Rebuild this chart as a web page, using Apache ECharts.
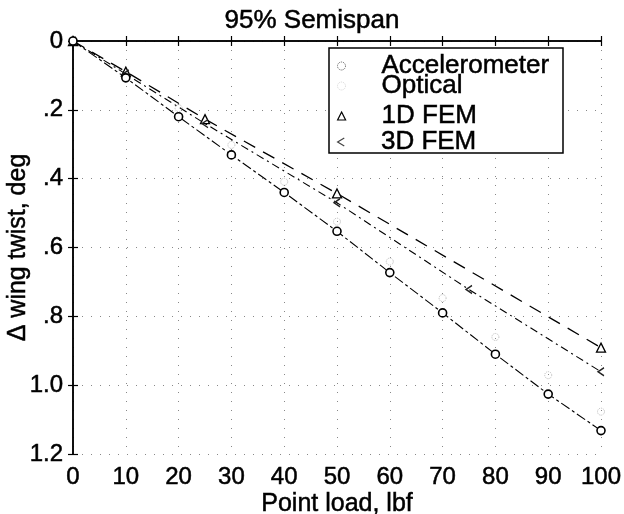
<!DOCTYPE html>
<html><head><meta charset="utf-8">
<script src="https://cdn.jsdelivr.net/npm/echarts@6/dist/echarts.min.js"></script>
<style>html,body{margin:0;padding:0;background:#fff}#c{width:624px;height:514px}</style>
</head><body><div id="c"></div>
<script>
// ---- data ----
const loads = [0, 10, 20, 30, 40, 50, 60, 70, 80, 90, 100];
const accelerometer = [0, 0.107, 0.22, 0.331, 0.44, 0.553, 0.673, 0.79, 0.91, 1.026, 1.132];
const optical = [0, 0.095, 0.195, 0.302, 0.409, 0.525, 0.641, 0.747, 0.86, 0.971, 1.077];
const fem1dLoads = [0, 10, 25, 50, 100];
const fem1d = [0, 0.089, 0.227, 0.443, 0.891];
const fem3dLoads = [0, 10, 25, 50, 75, 100];
const fem3d = [0, 0.096, 0.24, 0.47, 0.722, 0.961];
const yTickLabels = ['0', '.2', '.4', '.6', '.8', '1.0', '1.2'];
const seriesNames = ['Accelerometer', 'Optical', '1D FEM', '3D FEM'];

const FONT = 'Liberation Sans';
const thick = { textBorderColor: '#000', textBorderWidth: 0.5 };
const chevron = 'path://M10,0 L0,6 L10,12';
const pair = (xs, ys) => xs.map((x, i) => [x, ys[i]]);

const gridLine = { show: true, lineStyle: { type: [1, 8], color: '#888', width: 1 } };
const axisLine = { show: true, lineStyle: { color: '#000', width: 1.5 } };
const tick = { show: true, inside: true, length: 5, lineStyle: { color: '#000', width: 1.2 } };

const chart = echarts.init(document.getElementById('c'), null, { renderer: 'canvas' });
const legendText = Object.assign({ fontFamily: FONT, fontSize: 26, color: '#000', padding: [16, 0, 0, 31], lineHeight: 26 }, thick);
const legendTops = [45, 65, 95, 121];
const legendIcons = [
  { icon: 'circle', itemStyle: { color: '#fff', borderColor: '#555', borderWidth: 1, borderType: 'dotted' } },
  { icon: 'circle', itemStyle: { color: '#fff', borderColor: '#ccc', borderWidth: 1, borderType: 'dotted' } },
  { icon: 'triangle', itemStyle: { color: '#fff', borderColor: '#000', borderWidth: 1.2 } },
  { icon: chevron, itemStyle: { color: 'rgba(0,0,0,0)', borderColor: '#444', borderWidth: 1.2 } }
];

chart.setOption({
  animation: false,
  backgroundColor: '#fff',
  title: {
    text: '95% Semispan', left: 'center', top: 3,
    textStyle: Object.assign({ fontFamily: FONT, fontSize: 26, fontWeight: 'normal', color: '#000' }, thick)
  },
  graphic: [{
    type: 'rect', z: 5, shape: { x: 329, y: 48, width: 234, height: 105 },
    style: { fill: '#fff', stroke: '#000', lineWidth: 1.5 }
  }],
  legend: seriesNames.map((n, i) => ({
    z: 10, left: 337, top: legendTops[i], padding: 0, itemWidth: 8, itemHeight: 8,
    selectedMode: false, textStyle: legendText,
    data: [Object.assign({ name: n }, legendIcons[i])]
  })),
  grid: { left: 73, right: 23, top: 41, bottom: 60, outerBoundsMode: 'none', containLabel: false },
  xAxis: [{
    type: 'value', min: 0, max: 100, interval: 10,
    name: 'Point load, lbf', nameLocation: 'middle', nameGap: 38, nameMoveOverlap: false,
    nameTextStyle: Object.assign({ fontFamily: FONT, fontSize: 25, color: '#000' }, thick),
    axisLine, axisTick: tick, splitLine: gridLine,
    axisLabel: Object.assign({ fontFamily: FONT, fontSize: 24, color: '#000', margin: 11 }, thick)
  }, {
    type: 'value', min: 0, max: 100, interval: 10, position: 'top',
    axisLine, axisTick: tick, splitLine: { show: false }, axisLabel: { show: false }
  }],
  yAxis: [{
    type: 'value', min: 0, max: 1.2, interval: 0.2, inverse: true,
    name: 'Δ wing twist, deg', nameLocation: 'middle', nameGap: 42, nameMoveOverlap: false,
    nameTextStyle: Object.assign({ fontFamily: FONT, fontSize: 25, color: '#000' }, thick),
    axisLine, axisTick: tick, splitLine: gridLine,
    axisLabel: Object.assign({
      fontFamily: FONT, fontSize: 24, color: '#000', margin: 10,
      formatter: v => yTickLabels[Math.round(v / 0.2)]
    }, thick)
  }, {
    type: 'value', min: 0, max: 1.2, interval: 0.2, inverse: true, position: 'right',
    axisLine, axisTick: tick, splitLine: { show: false }, axisLabel: { show: false }
  }],
  series: [{
    name: 'Accelerometer', type: 'line', data: pair(loads, accelerometer), z: 4,
    symbol: 'circle', symbolSize: 8,
    itemStyle: { color: '#fff', borderColor: '#000', borderWidth: 1.6 },
    lineStyle: { color: '#000', width: 1.1, type: [10, 3, 3, 3] }
  }, {
    name: 'Optical', type: 'scatter', data: pair(loads, optical), z: 3,
    symbol: 'circle', symbolSize: 7,
    itemStyle: { color: 'rgba(255,255,255,0)', borderColor: '#aaa', borderWidth: 1, borderType: 'dotted' }
  }, {
    name: '1D FEM', type: 'line', data: pair(fem1dLoads, fem1d), z: 3,
    symbol: 'triangle', symbolSize: 9,
    itemStyle: { color: '#fff', borderColor: '#000', borderWidth: 1.3 },
    lineStyle: { color: '#000', width: 1.3, type: [13, 9] }
  }, {
    name: '3D FEM', type: 'line', data: pair(fem3dLoads, fem3d), z: 3,
    symbol: chevron, symbolSize: [6, 8],
    itemStyle: { color: 'rgba(0,0,0,0)', borderColor: '#222', borderWidth: 1.3 },
    lineStyle: { color: '#000', width: 1.1, type: [8, 4, 2, 4] }
  }]
});
</script></body></html>
